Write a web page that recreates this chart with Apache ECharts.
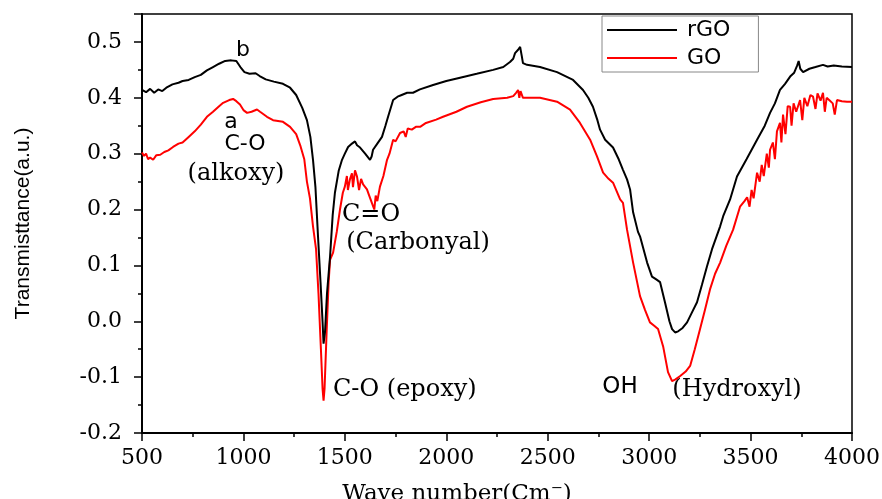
<!DOCTYPE html>
<html>
<head>
<meta charset="utf-8">
<script src="https://cdn.jsdelivr.net/npm/echarts@6/dist/echarts.min.js"></script>
<style>
  html, body { margin: 0; padding: 0; background: #fff; }
  #chart { width: 882px; height: 499px; }
</style>
</head>
<body>
<div id="chart"></div>
<script>
// rGO (black)
const rgoWave = [500, 520, 540, 560, 580, 600, 620, 650, 680, 700, 730, 760, 790, 820, 850, 880, 910, 940, 965, 985,
  1005, 1030, 1060, 1080, 1110, 1150, 1195, 1230, 1260, 1290, 1313, 1330, 1343, 1355, 1368, 1380, 1390, 1395, 1402, 1412,
  1427, 1440, 1451, 1470, 1486, 1500, 1516, 1535, 1550, 1560, 1575, 1600, 1624, 1632, 1639, 1660, 1683, 1700, 1713, 1738,
  1760, 1780, 1807, 1836, 1870, 1935, 2000, 2068, 2150, 2231, 2281, 2314, 2330, 2339, 2348, 2354, 2364, 2372, 2378, 2398,
  2462, 2546, 2625, 2674, 2700, 2723, 2745, 2758, 2783, 2822, 2850, 2871, 2891, 2906, 2921, 2945, 2955, 2990, 3014, 3035,
  3054, 3078, 3100, 3113, 3128, 3143, 3165, 3187, 3210, 3236, 3260, 3285, 3310, 3350, 3365, 3399, 3433, 3480, 3532, 3570,
  3596, 3620, 3645, 3670, 3695, 3715, 3730, 3737, 3745, 3759, 3790, 3820, 3857, 3880, 3910, 3950, 4000];
const rgoValue = [0.414, 0.410, 0.416, 0.409, 0.415, 0.412, 0.418, 0.424, 0.427, 0.430, 0.432, 0.437, 0.441, 0.449, 0.455, 0.461, 0.466, 0.467, 0.466, 0.455,
  0.446, 0.443, 0.444, 0.439, 0.433, 0.429, 0.425, 0.418, 0.405, 0.382, 0.360, 0.330, 0.289, 0.240, 0.150, 0.070, 0.000, -0.040, -0.020, 0.050,
  0.116, 0.190, 0.230, 0.270, 0.289, 0.300, 0.312, 0.318, 0.322, 0.315, 0.311, 0.300, 0.289, 0.295, 0.307, 0.318, 0.330, 0.350, 0.366, 0.396,
  0.402, 0.405, 0.409, 0.409, 0.415, 0.423, 0.430, 0.436, 0.443, 0.450, 0.455, 0.464, 0.470, 0.480, 0.478, 0.486, 0.491, 0.475, 0.462, 0.459,
  0.455, 0.446, 0.432, 0.414, 0.400, 0.384, 0.360, 0.343, 0.325, 0.311, 0.290, 0.271, 0.254, 0.236, 0.195, 0.160, 0.152, 0.105, 0.080, 0.075,
  0.070, 0.034, 0.000, -0.014, -0.020, -0.018, -0.012, -0.002, 0.015, 0.034, 0.065, 0.098, 0.129, 0.170, 0.188, 0.218, 0.259, 0.290, 0.325, 0.350,
  0.373, 0.390, 0.414, 0.425, 0.438, 0.445, 0.458, 0.466, 0.452, 0.446, 0.452, 0.455, 0.459, 0.456, 0.458, 0.456, 0.455];

// GO (red)
const goWave = [500, 510, 520, 530, 540, 555, 570, 590, 610, 630, 653, 680, 700, 730, 760, 790, 820, 850, 880, 900,
  930, 949, 965, 983, 1000, 1018, 1040, 1067, 1082, 1116, 1146, 1195, 1230, 1260, 1280, 1300, 1313, 1328, 1343, 1358,
  1370, 1382, 1390, 1395, 1400, 1410, 1420, 1427, 1442, 1460, 1476, 1490, 1500, 1510, 1515, 1525, 1535, 1540, 1550, 1560,
  1570, 1580, 1590, 1609, 1620, 1630, 1639, 1645, 1652, 1660, 1673, 1690, 1708, 1720, 1738, 1750, 1772, 1790, 1800, 1810,
  1830, 1850, 1871, 1900, 1950, 1984, 2050, 2102, 2170, 2231, 2300, 2330, 2344, 2350, 2354, 2360, 2366, 2378, 2462, 2546,
  2610, 2659, 2709, 2743, 2773, 2800, 2822, 2857, 2871, 2891, 2921, 2955, 2980, 3004, 3025, 3044, 3069, 3093, 3113, 3130,
  3153, 3180, 3202, 3225, 3251, 3275, 3300, 3325, 3350, 3380, 3414, 3448, 3470, 3483, 3495, 3505, 3515, 3532, 3545, 3555,
  3565, 3580, 3590, 3596, 3610, 3620, 3630, 3645, 3652, 3660, 3672, 3683, 3695, 3702, 3712, 3725, 3744, 3755, 3765, 3780,
  3795, 3808, 3820, 3830, 3845, 3857, 3866, 3875, 3890, 3905, 3915, 3926, 3950, 3975, 4000];
const goValue = [0.302, 0.296, 0.300, 0.290, 0.293, 0.289, 0.297, 0.298, 0.303, 0.306, 0.312, 0.318, 0.320, 0.330, 0.340, 0.352, 0.366, 0.375, 0.385, 0.391,
  0.396, 0.398, 0.394, 0.388, 0.378, 0.373, 0.375, 0.379, 0.375, 0.366, 0.360, 0.357, 0.348, 0.335, 0.315, 0.290, 0.250, 0.220, 0.170, 0.129,
  0.050, -0.050, -0.120, -0.142, -0.120, -0.020, 0.070, 0.110, 0.123, 0.160, 0.200, 0.230, 0.241, 0.260, 0.235, 0.254, 0.265, 0.240, 0.270, 0.259,
  0.235, 0.255, 0.245, 0.236, 0.225, 0.215, 0.212, 0.200, 0.225, 0.215, 0.241, 0.260, 0.289, 0.300, 0.325, 0.322, 0.337, 0.340, 0.330, 0.345,
  0.343, 0.348, 0.348, 0.355, 0.361, 0.366, 0.375, 0.384, 0.392, 0.398, 0.400, 0.403, 0.409, 0.407, 0.414, 0.400, 0.412, 0.400, 0.400, 0.393,
  0.379, 0.355, 0.325, 0.295, 0.266, 0.255, 0.248, 0.218, 0.212, 0.164, 0.105, 0.045, 0.020, -0.002, -0.008, -0.014, -0.045, -0.091, -0.107, -0.104,
  -0.098, -0.090, -0.080, -0.050, -0.014, 0.020, 0.057, 0.085, 0.105, 0.135, 0.164, 0.205, 0.215, 0.222, 0.205, 0.235, 0.220, 0.266, 0.250, 0.280,
  0.260, 0.300, 0.275, 0.307, 0.320, 0.290, 0.340, 0.355, 0.320, 0.370, 0.335, 0.385, 0.384, 0.350, 0.390, 0.375, 0.396, 0.360, 0.400, 0.385,
  0.405, 0.402, 0.380, 0.408, 0.395, 0.409, 0.375, 0.400, 0.395, 0.390, 0.370, 0.396, 0.394, 0.393, 0.393];

const xTicks = { min: 500, max: 4000, interval: 500 };
const yTicks = { min: -0.2, max: 0.55, interval: 0.1 };

const zip = (xs, ys) => xs.map((x, i) => [x, ys[i]]);

const serif = "DejaVu Serif";
const sans = "DejaVu Sans";

const chart = echarts.init(document.getElementById("chart"));

chart.setOption({
  animation: false,
  backgroundColor: "#fff",
  grid: {
    left: 142,
    right: 30,
    top: 14,
    bottom: 66,
    outerBoundsMode: "none",
    containLabel: false,
    show: true,
    borderColor: "#000",
    borderWidth: 1.5,
  },
  legend: {
    data: ["rGO", "GO"],
    orient: "vertical",
    left: 602,
    top: 16,
    icon: "rect",
    itemWidth: 70,
    itemHeight: 2,
    itemGap: 6,
    padding: [3, 28, 3, 5],
    borderColor: "#888",
    borderWidth: 1,
    textStyle: { fontFamily: sans, fontSize: 22, color: "#000", padding: [0, 0, 0, 5] },
  },
  xAxis: {
    type: "value",
    min: xTicks.min,
    max: xTicks.max,
    interval: xTicks.interval,
    name: "Wave number(Cm⁻)",
    nameLocation: "middle",
    nameGap: 50,
    nameTextStyle: { fontFamily: serif, fontSize: 23, color: "#000", padding: [0, 80, 0, 0] },
    axisLine: { onZero: false, lineStyle: { color: "#000", width: 2 } },
    axisTick: { length: 8, lineStyle: { color: "#000", width: 1.5 } },
    minorTick: { show: true, splitNumber: 2, length: 4, lineStyle: { color: "#000", width: 1.5 } },
    splitLine: { show: false },
    axisLabel: { fontFamily: serif, fontSize: 22, color: "#000", margin: 14, formatter: (v) => String(v) },
  },
  yAxis: {
    type: "value",
    min: yTicks.min,
    max: yTicks.max,
    interval: yTicks.interval,
    name: "Transmisttance(a.u.)",
    nameLocation: "middle",
    nameGap: 108,
    nameTextStyle: { fontFamily: "Liberation Sans", fontSize: 21, color: "#000" },
    axisLine: { show: true, onZero: false, lineStyle: { color: "#000", width: 2 } },
    axisTick: { show: true, length: 8, lineStyle: { color: "#000", width: 1.5 } },
    minorTick: { show: true, splitNumber: 2, length: 4, lineStyle: { color: "#000", width: 1.5 } },
    splitLine: { show: false },
    axisLabel: {
      fontFamily: serif,
      fontSize: 22,
      color: "#000",
      margin: 20,
      showMaxLabel: false,
      formatter: (v) => v.toFixed(1),
    },
  },
  series: [
    {
      name: "rGO",
      type: "line",
      data: zip(rgoWave, rgoValue),
      symbol: "none",
      color: "#000",
      lineStyle: { color: "#000", width: 2 },
      z: 3,
    },
    {
      name: "GO",
      type: "line",
      data: zip(goWave, goValue),
      symbol: "none",
      color: "#ff0000",
      lineStyle: { color: "#ff0000", width: 2 },
      z: 2,
    },
  ],
  graphic: [
    { type: "text", x: 243, y: 50, style: { text: "b", font: "22px " + sans, fill: "#000", align: "center", verticalAlign: "middle" } },
    { type: "text", x: 231, y: 122, style: { text: "a", font: "22px " + sans, fill: "#000", align: "center", verticalAlign: "middle" } },
    { type: "text", x: 245, y: 144, style: { text: "C-O", font: "22px " + sans, fill: "#000", align: "center", verticalAlign: "middle" } },
    { type: "text", x: 236, y: 174, style: { text: "(alkoxy)", font: "24px " + serif, fill: "#000", align: "center", verticalAlign: "middle" } },
    { type: "text", x: 371, y: 215, style: { text: "C=O", font: "24px " + serif, fill: "#000", align: "center", verticalAlign: "middle" } },
    { type: "text", x: 418, y: 243, style: { text: "(Carbonyal)", font: "24px " + serif, fill: "#000", align: "center", verticalAlign: "middle" } },
    { type: "text", x: 333, y: 390, style: { text: "C-O (epoxy)", font: "24px " + serif, fill: "#000", align: "left", verticalAlign: "middle" } },
    { type: "text", x: 620, y: 387, style: { text: "OH", font: "23px " + sans, fill: "#000", align: "center", verticalAlign: "middle" } },
    { type: "text", x: 737, y: 390, style: { text: "(Hydroxyl)", font: "24px " + serif, fill: "#000", align: "center", verticalAlign: "middle" } },
  ],
});
</script>
</body>
</html>
